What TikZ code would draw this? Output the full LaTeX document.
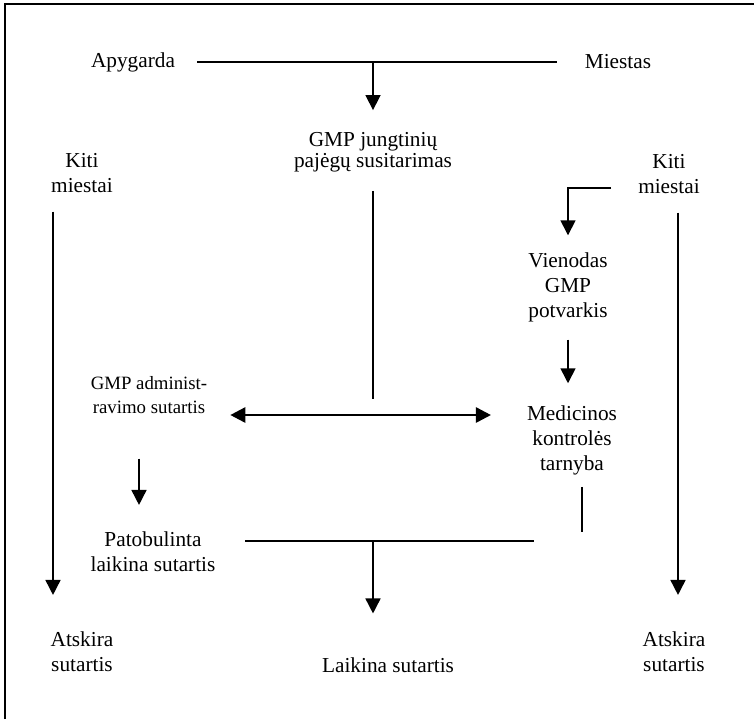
\documentclass[tikz,border=0pt]{standalone}
\usepackage{fontspec}
\setmainfont{Liberation Serif}
\usetikzlibrary{arrows.meta}

\begin{document}
\begin{tikzpicture}[
  x=0.5pt, y=-0.5pt,
  txt/.style={align=center, font=\fontsize{10.65pt}{12.5pt}\selectfont},
  smalltxt/.style={align=center, font=\fontsize{9.4pt}{12pt}\selectfont},
  ln/.style={line width=0.8pt},
  arr/.style={-{Triangle[width=7.5pt,length=7.5pt]}, line width=0.8pt},
  dblarr/.style={{Triangle[width=7.5pt,length=7.5pt]}-{Triangle[width=7.5pt,length=7.5pt]}, line width=1.3pt},
]
\useasboundingbox (0,0) rectangle (754,719);

% ── Frame (only top and left edges are in view) ──
\draw[line width=1pt] (5,719) -- (5,4) -- (754,4);

% ── Text nodes ──
\node[txt] (apy) at (133,62) {Apygarda};
\node[txt] (mst) at (618,62) {Miestas};
\node[txt, font=\fontsize{10.65pt}{10.5pt}\selectfont] (jung) at (373,152)
  {GMP jungtinių\\pajėgų susitarimas};
\node[txt] (kitiL) at (82,173) {Kiti\\miestai};
\node[txt] (kitiR) at (669,174) {Kiti\\miestai};
\node[txt] (vien) at (568,287) {Vienodas\\GMP\\potvarkis};
\node[smalltxt] (adm) at (149,395) {GMP administ-\\ravimo sutartis};
\node[txt] (med) at (572,440) {Medicinos\\kontrolės\\tarnyba};
\node[txt] (pat) at (153,552) {Patobulinta\\laikina sutartis};
\node[txt] (atsL) at (82,652) {Atskira\\sutartis};
\node[txt] (laik) at (388,665) {Laikina sutartis};
\node[txt] (atsR) at (674,652) {Atskira\\sutartis};

% ── Junction points ──
\coordinate (top) at (373,62);
\coordinate (hub) at (373,399);
\coordinate (split) at (373,541);
\coordinate (patend) at (534,541);
\coordinate (medend) at (582,532);

% ── Connectors ──
% Apygarda -- Miestas, then down to the joint agreement
\draw[ln, shorten <=7.5pt, shorten >=10.5pt] (apy) -- (mst);
\draw[arr, shorten >=7.5pt] (top) -- (jung);
\draw[ln, shorten <=6pt] (jung) -- (hub);

% administravimo sutartis <-> Medicinos kontrolės tarnyba
\draw[dblarr] ([shift={(8pt,-10pt)}]adm.east) -- ([shift={(-14.5pt,-10pt)}]adm.east -| med.west);

% right branch
\draw[arr, shorten >=5pt] ([shift={(-10pt,-7pt)}]kitiR.west) -| (vien);
\draw[arr, shorten <=5.5pt, shorten >=7.5pt] (vien) -- (vien |- med.north);
\draw[ln, shorten <=2.5pt] ([xshift=5pt]med.south) -- (medend);

% left branch
\draw[arr, shorten <=19pt, shorten >=10pt] ([xshift=-5pt]adm.south) -- ([xshift=-5pt]adm.south |- pat.north);
\draw[ln, shorten <=11.5pt] ([yshift=5.5pt]pat.east) -- (patend);
\draw[arr, shorten >=18.5pt] (split) -- (split |- laik.north);

% long side arrows
\draw[arr, shorten <=6pt, shorten >=15pt] ([xshift=-14.5pt]kitiL.south) -- ([xshift=-14.5pt]kitiL.south |- atsL.north);
\draw[arr, shorten <=6pt, shorten >=15pt] ([xshift=4.5pt]kitiR.south) -- ([xshift=4.5pt]kitiR.south |- atsR.north);

\end{tikzpicture}
\end{document}
